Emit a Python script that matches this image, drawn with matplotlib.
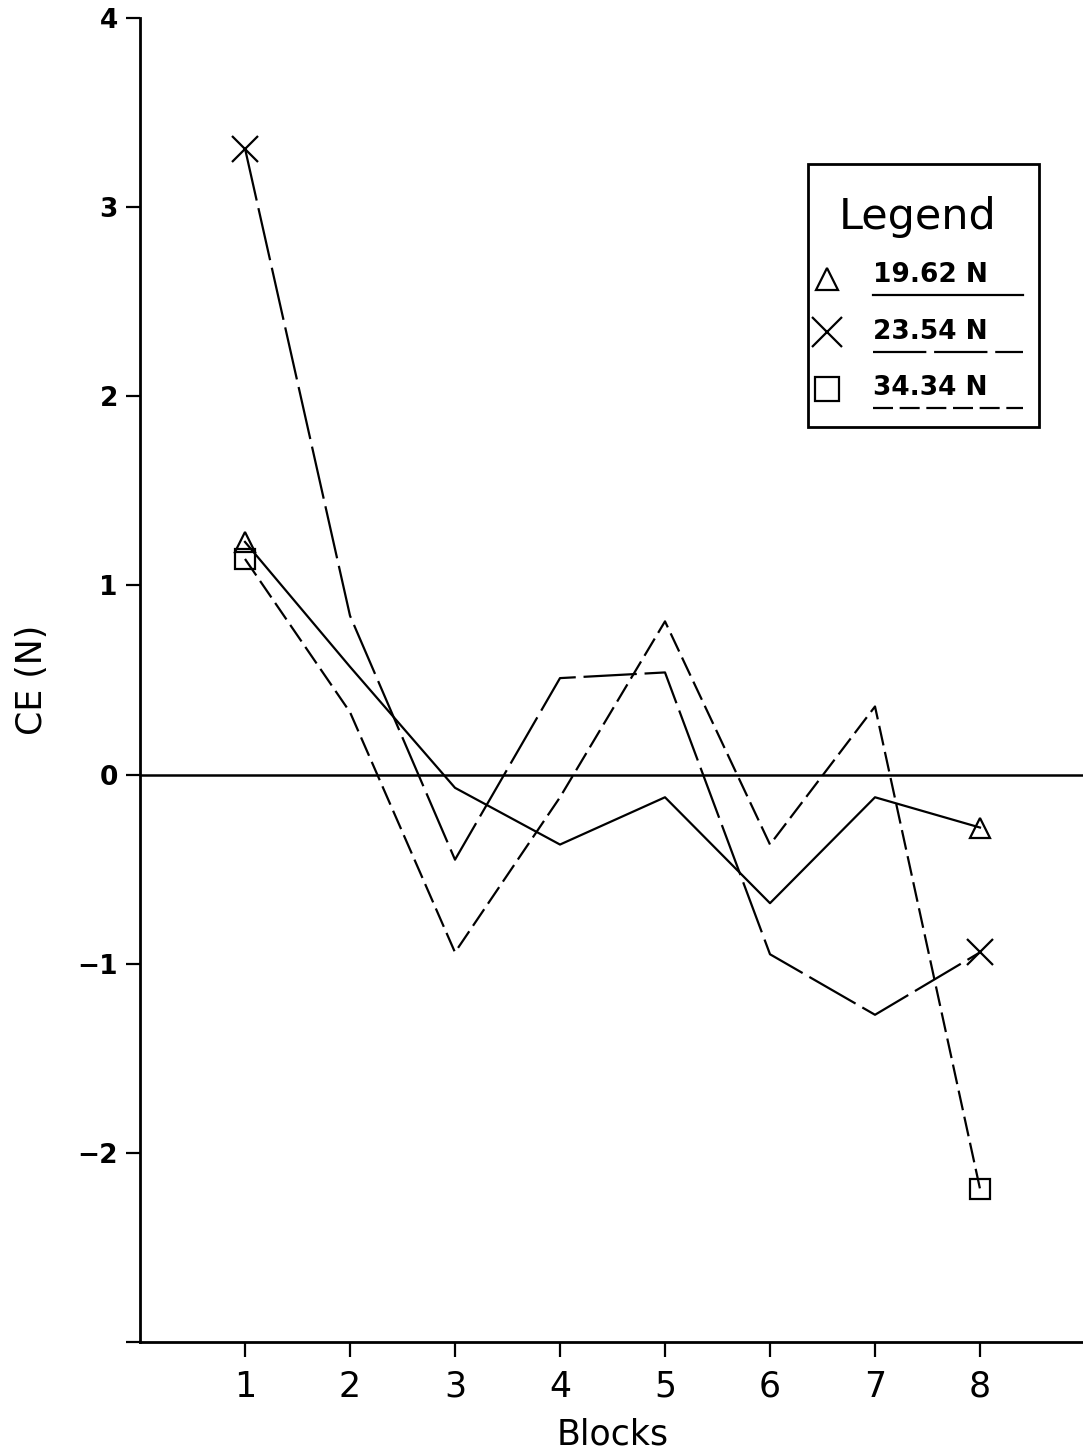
import numpy as np
import matplotlib
matplotlib.use('Agg')
import matplotlib.pyplot as plt
from matplotlib.lines import Line2D
from matplotlib.patches import Rectangle

plt.rcParams['font.family'] = 'DejaVu Sans'

# ── Data ─────────────────────────────────────────────────────────────────────
blocks = [1, 2, 3, 4, 5, 6, 7, 8]
ce_1962 = [1.23, 0.57, -0.07, -0.37, -0.12, -0.68, -0.12, -0.28]
ce_2354 = [3.31, 0.84, -0.45, 0.51, 0.54, -0.95, -1.27, -0.94]
ce_3434 = [1.14, 0.33, -0.94, -0.12, 0.81, -0.37, 0.36, -2.19]
series_labels = ['19.62 N', '23.54 N', '34.34 N']

y_ticks = [-3, -2, -1, 0, 1, 2, 3, 4]
y_ticklabels = ['', '\u22122', '\u22121', '0', '1', '2', '3', '4']

# ── Styles ───────────────────────────────────────────────────────────────────
markers = ['^', 'x', 's']
marker_sizes = [14, 19, 15]
dash_styles = ['-', (0, (24, 3.5)), (0, (9, 3))]
LW = 1.6

W, H = 1083, 1456
fig = plt.figure(figsize=(W / 100, H / 100), dpi=100)
ax = fig.add_axes([140 / W, (H - 1342) / H, 945 / W, 1324 / H])


def fp(x, y):
    # pixel position -> figure fraction (used for the hand drawn legend)
    return x / W, 1 - y / H


for vals, mk, ms, ls in zip([ce_1962, ce_2354, ce_3434], markers, marker_sizes, dash_styles):
    ax.plot(blocks, vals, color='black', lw=LW, linestyle=ls,
            marker=mk, markersize=ms, markevery=[0, len(vals) - 1],
            mfc='none', mec='black', mew=1.6, clip_on=False)

ax.axhline(0, color='black', lw=1.8)

ax.set_xlim(0, 9)
ax.set_ylim(-3, 4)
ax.set_xticks(blocks)
ax.set_xticklabels([str(b) for b in blocks], fontsize=25)
ax.set_yticks(y_ticks)
ax.set_yticklabels(y_ticklabels, fontsize=19, fontweight='bold')

ax.spines['top'].set_visible(False)
ax.spines['right'].set_visible(False)
ax.spines['left'].set_linewidth(2)
ax.spines['bottom'].set_linewidth(2)
ax.tick_params(axis='y', direction='out', length=10, width=1.6, pad=6)
ax.tick_params(axis='x', direction='out', length=11, width=1.6, pad=9)

ax.set_xlabel('Blocks', fontsize=25, labelpad=10)
ax.set_ylabel('CE (N)', fontsize=25, labelpad=20)

# ── Legend box drawn by hand ─────────────────────────────────────────────────
x0, y0 = fp(808, 427)
x1, y1 = fp(1039, 164)
fig.patches.append(Rectangle((x0, y0), x1 - x0, y1 - y0, transform=fig.transFigure,
                             fill=False, edgecolor='black', lw=2))
fig.text(*fp(918, 217), 'Legend', fontsize=31, ha='center', va='center')

row_text_y = [275, 332, 388]
row_line_y = [295, 352, 408]
row_marker_y = [279, 332, 389]
for lab, mk, ms, ls, ty, ly, my in zip(series_labels, markers, marker_sizes, dash_styles,
                                     row_text_y, row_line_y, row_marker_y):
    fig.text(*fp(873, ty), lab, fontsize=19, fontweight='bold', ha='left', va='center')
    lx0, lyy = fp(873, ly)
    lx1, _ = fp(1023, ly)
    fig.lines.append(Line2D([lx0, lx1], [lyy, lyy], transform=fig.transFigure,
                            color='black', lw=LW, linestyle=ls))
    mx, myy = fp(827, my)
    fig.lines.append(Line2D([mx], [myy], transform=fig.transFigure, marker=mk,
                            markersize=ms + 2, mfc='none', mec='black', mew=1.6,
                            linestyle='none'))

fig.savefig('out.png', dpi=100)
